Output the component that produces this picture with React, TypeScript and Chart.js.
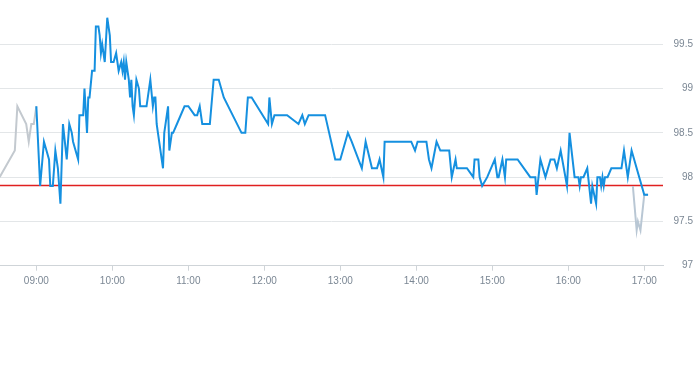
import React, { useEffect, useRef } from "react";
import { Chart, registerables } from "chart.js";

Chart.register(...registerables);

const preTimes = ["08:31", "08:43", "08:45", "08:52", "08:54", "08:55", "08:56", "08:58", "09:00"];
const preValues = [98.0, 98.3, 98.8, 98.6, 98.4, 98.5, 98.6, 98.6, 98.8];

const mainTimes = [
  "09:00", "09:03", "09:06", "09:08", "09:10", "09:11", "09:13", "09:15", "09:17", "09:19",
  "09:21", "09:24", "09:26", "09:28", "09:29", "09:33", "09:34", "09:37", "09:38", "09:40",
  "09:41", "09:42", "09:44", "09:46", "09:47", "09:49", "09:50", "09:51", "09:52", "09:53",
  "09:54", "09:56", "09:57", "09:58", "09:59", "10:01", "10:03", "10:04", "10:05", "10:07",
  "10:08", "10:09", "10:10", "10:11", "10:13", "10:14", "10:15", "10:16", "10:17", "10:19",
  "10:21", "10:22", "10:27", "10:30", "10:32", "10:33", "10:34", "10:35", "10:36", "10:40",
  "10:41", "10:44", "10:45", "10:47", "10:48", "10:51", "10:57", "11:00", "11:05", "11:07",
  "11:09", "11:11", "11:17", "11:20", "11:24", "11:28", "11:42", "11:45", "11:47", "11:50",
  "12:03", "12:04", "12:06", "12:08", "12:18", "12:27", "12:30", "12:32", "12:35", "12:48",
  "12:56", "13:00", "13:06", "13:09", "13:17", "13:20", "13:25", "13:29", "13:31", "13:34",
  "13:35", "13:56", "13:59", "14:01", "14:08", "14:10", "14:12", "14:16", "14:19", "14:26",
  "14:28", "14:31", "14:32", "14:40", "14:45", "14:46", "14:49", "14:50", "14:52", "14:56",
  "15:02", "15:04", "15:05", "15:08", "15:10", "15:11", "15:20", "15:30", "15:34", "15:35",
  "15:38", "15:42", "15:46", "15:49", "15:51", "15:54", "15:59", "16:01", "16:05", "16:08",
  "16:09", "16:10", "16:12", "16:15", "16:18", "16:19", "16:22", "16:23", "16:25", "16:26",
  "16:27", "16:28", "16:29", "16:31", "16:34", "16:42", "16:44", "16:47", "16:50", "17:00",
  "17:03",
];
const mainValues = [
  98.8, 97.9, 98.4, 98.3, 98.2, 97.9, 97.9, 98.3, 98.1, 97.7,
  98.6, 98.2, 98.6, 98.5, 98.4, 98.2, 98.7, 98.7, 99.0, 98.5,
  98.9, 98.9, 99.2, 99.2, 99.7, 99.7, 99.6, 99.4, 99.5, 99.4,
  99.3, 99.8, 99.7, 99.6, 99.3, 99.3, 99.4, 99.3, 99.2, 99.3,
  99.2, 99.3, 99.1, 99.3, 99.1, 98.9, 99.1, 98.8, 98.7, 99.1,
  99.0, 98.8, 98.8, 99.1, 98.8, 98.9, 98.9, 98.6, 98.5, 98.1,
  98.5, 98.8, 98.3, 98.5, 98.5, 98.6, 98.8, 98.8, 98.7, 98.7,
  98.8, 98.6, 98.6, 99.1, 99.1, 98.9, 98.5, 98.5, 98.9, 98.9,
  98.6, 98.9, 98.6, 98.7, 98.7, 98.6, 98.7, 98.6, 98.7, 98.7,
  98.2, 98.2, 98.5, 98.4, 98.1, 98.4, 98.1, 98.1, 98.2, 98.0,
  98.4, 98.4, 98.3, 98.4, 98.4, 98.2, 98.1, 98.4, 98.3, 98.3,
  98.0, 98.2, 98.1, 98.1, 98.0, 98.2, 98.2, 98.0, 97.9, 98.0,
  98.2, 98.0, 98.0, 98.2, 98.0, 98.2, 98.2, 98.0, 98.0, 97.8,
  98.2, 98.0, 98.2, 98.2, 98.1, 98.3, 97.9, 98.5, 98.0, 98.0,
  97.9, 98.0, 98.0, 98.1, 97.7, 97.9, 97.7, 98.0, 98.0, 97.9,
  98.0, 97.9, 98.0, 98.0, 98.1, 98.1, 98.3, 98.0, 98.3, 97.8,
  97.8,
];

const postTimes = ["16:51", "16:54", "16:55", "16:57", "17:00", "17:03"];
const postValues = [97.9, 97.4, 97.5, 97.4, 97.8, 97.8];

const previousClose = 97.91;

const xTickLabels = ["09:00", "10:00", "11:00", "12:00", "13:00", "14:00", "15:00", "16:00", "17:00"];
const yTickValues = [97, 97.5, 98, 98.5, 99, 99.5];
const xStart = "08:31";
const xEnd = "17:15";

const toMin = (t: string) => {
  const [h, m] = t.split(":").map(Number);
  return h * 60 + m;
};
const pts = (times: string[], values: number[]) =>
  times.map((t, i) => ({ x: toMin(t), y: values[i] }));

const prevClosePlugin = {
  id: "prevClose",
  beforeDatasetsDraw(chart: any) {
    const { ctx, chartArea, scales } = chart;
    const y = Math.round(scales.y.getPixelForValue(previousClose)) + 0.5;
    ctx.save();
    ctx.globalAlpha = 1;
    ctx.setLineDash([]);
    ctx.strokeStyle = "#e02020";
    ctx.lineWidth = 1.3;
    ctx.beginPath();
    ctx.moveTo(chartArea.left, y);
    ctx.lineTo(chartArea.right, y);
    ctx.stroke();
    ctx.restore();
  },
};

export default function App() {
  const ref = useRef<HTMLCanvasElement>(null);
  useEffect(() => {
    if (!ref.current) return;
    const labelColor = "#7b8794";
    const font = { family: "'Liberation Sans', Arial, sans-serif", size: 10 };
    const chart = new Chart(ref.current, {
      type: "line",
      data: {
        datasets: [
          {
            data: pts(mainTimes, mainValues),
            borderColor: "#1590e0",
            borderWidth: 2,
            pointRadius: 0,
            tension: 0,
            order: 0,
          },
          {
            data: pts(preTimes, preValues),
            borderColor: "#c3c9cf",
            borderWidth: 2,
            pointRadius: 0,
            tension: 0,
            order: 1,
          },
          {
            data: pts(postTimes, postValues),
            borderColor: "#b9c7d4",
            borderWidth: 2,
            pointRadius: 0,
            tension: 0,
            order: 1,
          },
        ],
      },
      options: {
        animation: false,
        responsive: false,
        layout: { padding: 0 },
        plugins: { legend: { display: false }, tooltip: { enabled: false } },
        scales: {
          x: {
            type: "linear",
            min: toMin(xStart) + 0.3,
            max: toMin(xEnd) - 0.2,
            afterBuildTicks: (scale: any) => {
              scale.ticks = xTickLabels.map((l) => ({ value: toMin(l) }));
            },
            afterFit: (scale: any) => {
              scale.height = 99.3;
              scale.paddingLeft = 0;
              scale.paddingRight = 0;
            },
            grid: { drawOnChartArea: false, color: "#cfd4d8", tickLength: 5 },
            border: { display: true, color: "#cfd4d8" },
            ticks: {
              color: labelColor,
              padding: 5,
              maxRotation: 0,
              autoSkip: false,
              font,
              callback: (_v: any, i: number) => xTickLabels[i],
            },
          },
          y: {
            position: "right",
            min: 97,
            max: 100,
            afterBuildTicks: (scale: any) => {
              scale.ticks = yTickValues.map((v) => ({ value: v }));
            },
            afterFit: (scale: any) => {
              scale.width = 30;
              scale.paddingTop = 0;
              scale.paddingBottom = 0;
            },
            grid: { color: "#e3e6e8", drawTicks: false },
            border: { display: false },
            ticks: {
              color: labelColor,
              padding: 0,
              crossAlign: "far",
              font,
              callback: (v: any) => String(v),
            },
          },
        },
      } as any,
      plugins: [prevClosePlugin],
    });
    return () => chart.destroy();
  }, []);
  return (
    <div style={{ position: "absolute", left: 0, top: 0, width: 693, height: 365 }}>
      <canvas ref={ref} width={693} height={365} style={{ display: "block" }} />
    </div>
  );
}
